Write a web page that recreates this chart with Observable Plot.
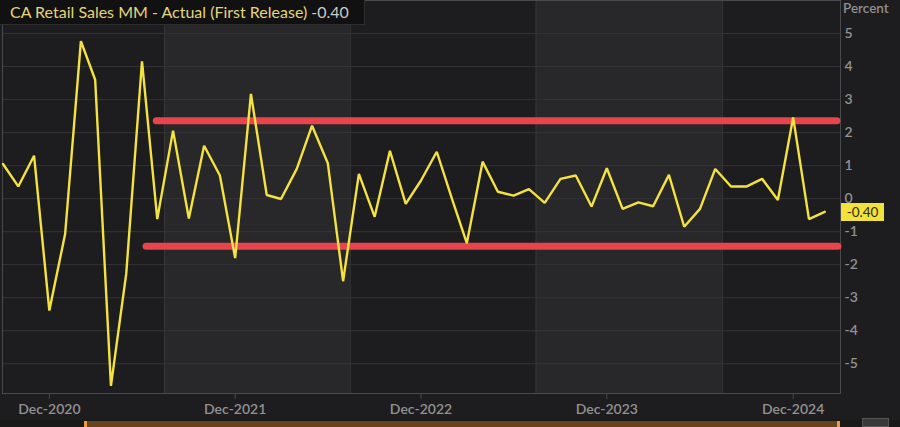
<!DOCTYPE html>
<html>
<head>
<meta charset="utf-8">
<script src="https://cdn.jsdelivr.net/npm/d3@7"></script>
<script src="https://cdn.jsdelivr.net/npm/@observablehq/plot@0.6"></script>
<style>
  html, body { margin: 0; padding: 0; background: #191919; }
  #wrap { position: relative; width: 900px; height: 427px; overflow: hidden; font-family: Lato, "Open Sans", sans-serif; }
  #title { position: absolute; left: 0; top: 0; height: 25px; width: 365px; box-sizing: border-box;
           background: #111111; border-right: 1px solid #2e2e2e; border-bottom: 1px solid #2e2e2e;
           color: #e4d47c; font-size: 16px; line-height: 24px; padding-left: 10px; white-space: nowrap; }
  #title .v { color: #c9c9c9; margin-left: 4px; }
  #unit { position: absolute; left: 843px; top: 0px; color: #8f8f8f; font-size: 13.5px; font-weight: 600; }
  #last { position: absolute; left: 841px; width: 43px; height: 18px; background: #f3e13c; color: #2a2a10;
          font-size: 13.5px; line-height: 18px; text-align: center; }
  #nav { position: absolute; left: 84px; top: 421px; width: 756px; height: 6px; background: #65431f; }
  #nav:before, #nav:after { content: ""; position: absolute; top: 0; width: 3px; height: 6px; background: #f09a3c; }
  #nav:before { left: 0; } #nav:after { right: 0; }
  #btn { position: absolute; left: 862px; top: 418px; width: 27px; height: 9px; background: #3a3a3a; border: 1px solid #555; box-sizing: border-box; }
</style>
</head>
<body>
<div id="wrap">
  <div id="chart"></div>
  <div id="title">CA Retail Sales MM - Actual (First Release)<span class="v">-0.40</span></div>
  <div id="unit">Percent</div>
  <div id="nav"></div>
  <div id="btn"></div>
</div>
<script>
// Monthly values, Sep-2020 .. Feb-2025 (percent, m/m)
const months = [
  "2020-09","2020-10","2020-11","2020-12",
  "2021-01","2021-02","2021-03","2021-04","2021-05","2021-06","2021-07","2021-08","2021-09","2021-10","2021-11","2021-12",
  "2022-01","2022-02","2022-03","2022-04","2022-05","2022-06","2022-07","2022-08","2022-09","2022-10","2022-11","2022-12",
  "2023-01","2023-02","2023-03","2023-04","2023-05","2023-06","2023-07","2023-08","2023-09","2023-10","2023-11","2023-12",
  "2024-01","2024-02","2024-03","2024-04","2024-05","2024-06","2024-07","2024-08","2024-09","2024-10","2024-11","2024-12",
  "2025-01","2025-02"
];
const values = [
  1.05, 0.37, 1.30, -3.39,
  -1.07, 4.77, 3.60, -5.67, -2.28, 4.16, -0.62, 2.06, -0.60, 1.60, 0.70, -1.80,
  3.17, 0.11, -0.01, 0.90, 2.21, 1.07, -2.50, 0.75, -0.55, 1.45, -0.16, 0.55,
  1.42, -0.06, -1.35, 1.12, 0.21, 0.09, 0.29, -0.13, 0.60, 0.70, -0.24, 0.92,
  -0.31, -0.11, -0.23, 0.72, -0.85, -0.31, 0.90, 0.37, 0.37, 0.60, -0.04, 2.46,
  -0.62, -0.40
];
// Alternate shaded period bands
const bandFrom = ["2021-07-15", "2023-07-15"];
const bandTo   = ["2022-07-15", "2024-07-15"];
const bandEdges = ["2021-07-15", "2022-07-15", "2023-07-15", "2024-07-15"];
// Hand-drawn range lines
const rangeFrom  = ["2021-06-29", "2021-06-09"];
const rangeTo    = ["2025-02-25", "2025-02-27"];
const rangeLevel = [2.36, -1.44];
// Axis ticks
const xTicks = ["2020-12-01", "2021-12-01", "2022-12-01", "2023-12-01", "2024-12-01"];
const yTicks = [-5, -4, -3, -2, -1, 0, 1, 2, 3, 4, 5];
const xDomain = ["2020-08-31", "2025-03-04"];
const yDomain = [-5.9, 6];

const d = s => new Date(s.length === 7 ? s + "-01" : s);
const series = months.map((m, i) => ({date: d(m), value: values[i]}));
const bands = bandFrom.map((f, i) => ({x1: d(f), x2: d(bandTo[i])}));
const ranges = rangeFrom.map((f, i) => ({x1: d(f), x2: d(rangeTo[i]), y: rangeLevel[i]}));
const fmt = d3.utcFormat("%b-%Y");

const plot = Plot.plot({
  width: 900, height: 420,
  marginLeft: 2, marginRight: 60, marginTop: 0, marginBottom: 27,
  style: {background: "#1d1d1f", fontFamily: "Lato, 'Open Sans', sans-serif", overflow: "visible"},
  x: {type: "utc", domain: xDomain.map(d)},
  y: {domain: yDomain},
  marks: [
    Plot.rect(bands, {x1: "x1", x2: "x2", fill: "#28282b"}),
    Plot.ruleY(yTicks, {stroke: "#343436", strokeWidth: 1}),
    Plot.ruleX(bandEdges.map(d), {stroke: "#363638", strokeWidth: 1}),
    Plot.frame({stroke: "#4a4a4c", strokeWidth: 1}),
    Plot.link(ranges, {x1: "x1", x2: "x2", y1: "y", y2: "y", stroke: "#e8444b", strokeWidth: 7, strokeLinecap: "round"}),
    Plot.line(series, {x: "date", y: "value", stroke: "#f4e33f", strokeWidth: 2.4, strokeLinejoin: "miter"}),
    Plot.axisY(yTicks, {anchor: "right", tickSize: 0, tickPadding: 4, tickFormat: v => String(v),
      fill: "#929292", fontSize: 14, fontWeight: 600, label: null}),
    Plot.axisX(xTicks.map(d), {anchor: "bottom", tickSize: 6, stroke: "#4a4a4c", tickPadding: 5,
      tickFormat: fmt, fill: "#929292", fontSize: 14, fontWeight: 600, label: null})
  ]
});
document.getElementById("chart").appendChild(plot);

// last-value tag positioned by the plot's own y scale
const last = values[values.length - 1];
const yPix = plot.scale("y").apply(last);
const tag = document.createElement("div");
tag.id = "last";
tag.textContent = last.toFixed(2);
tag.style.top = (yPix - 8) + "px";
document.getElementById("wrap").appendChild(tag);
</script>
</body>
</html>
